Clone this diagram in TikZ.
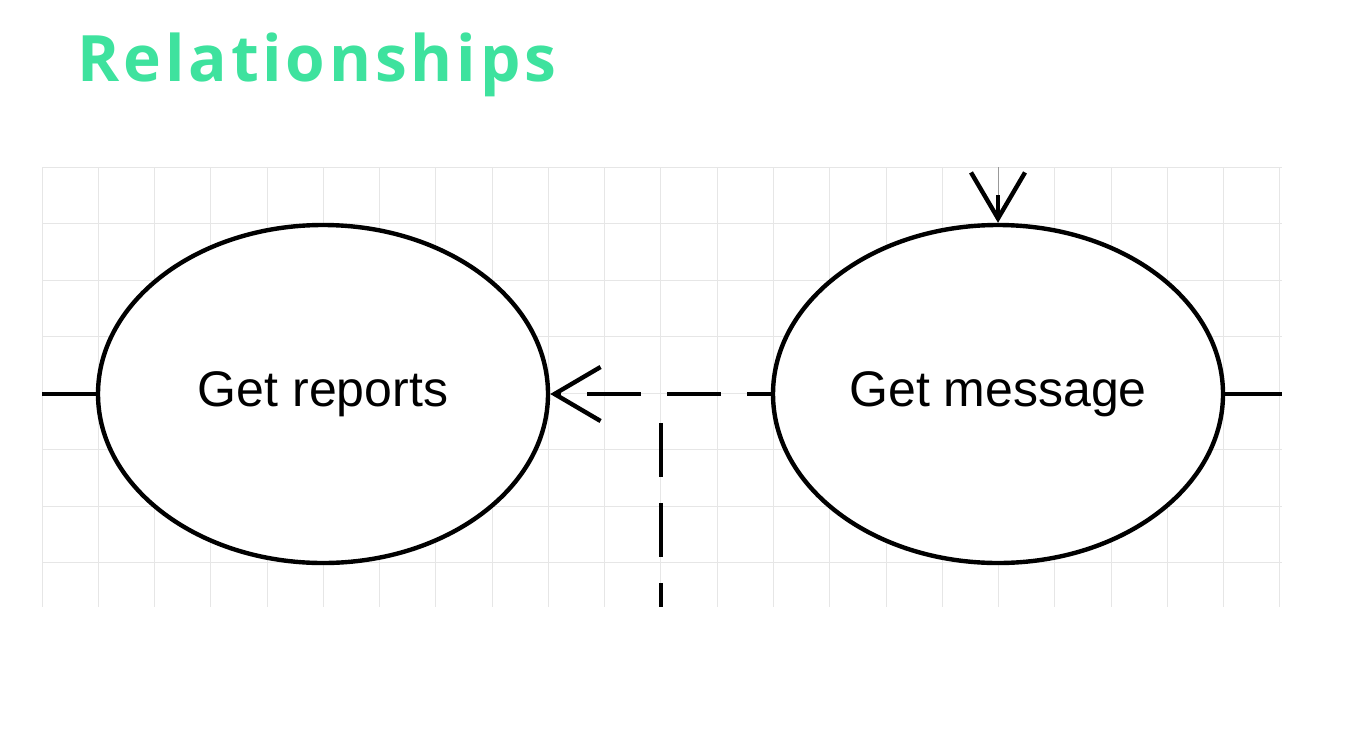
\documentclass[tikz,border=0pt]{standalone}
\usepackage{fontspec}
\setmainfont{Liberation Sans}
\newfontfamily\titlefont{Open Sans}[LetterSpace=6, Ligatures=NoCommon]
\usetikzlibrary{shapes.geometric, arrows.meta, positioning}
\definecolor{titlegreen}{RGB}{62,226,158}
\definecolor{gridgrey}{RGB}{230,230,230}

\begin{document}
\begin{tikzpicture}[
    x=0.5pt, y=-0.5pt,
    usecase/.style = {
        ellipse, draw=black, line width=2.2pt, fill=white,
        minimum width=225pt, minimum height=169pt,
        font=\fontsize{25}{30}\selectfont, inner sep=0pt
    },
    gridline/.style = {draw=gridgrey, line width=0.5pt},
    assoc/.style = {draw=black, line width=2.2pt},
    barb/.style = {-{Straight Barb[length=23pt, width=27pt]}, line width=2.2pt},
    dep/.style = {draw=black, line width=2.2pt, dash pattern=on 27pt off 13pt}
]
\useasboundingbox (0,0) rectangle (1352,744);

% ---- Title ----
\node[anchor=base west, inner sep=0pt, text=titlegreen,
      font=\titlefont\bfseries\fontsize{32}{38}\selectfont] (title) at (77,81) {Relationships};

% ---- Grid ----
\foreach \i in {0,...,22}
  \draw[gridline] (42+\i*56.27,167) -- (42+\i*56.27,607);
\foreach \j in {0,...,7}
  \draw[gridline] (42,167+\j*56.5) -- (1282,167+\j*56.5);

% ---- Use cases ----
\node[usecase] (reports) at (323,394) {Get reports};
\node[usecase] (message) at (998,394) {Get message};

% ---- Free ends ----
\coordinate (leftend) at (42,394);
\coordinate (rightend) at (1282,394);
\coordinate (branch) at (661,423);
\coordinate (branchend) at (661,607);
\coordinate (gridtop) at (998,167);
\coordinate (intop) at (998,195);

% ---- Connectors ----
\draw[assoc] (leftend) -- (reports.west);
\draw[assoc] (message.east) -- (rightend);
\draw[dep, dash phase=15pt, barb] (message.west) -- (reports.east);
\draw[dep] (branch) -- (branchend);
\draw[draw=black!40, line width=0.4pt] (gridtop) -- (intop);
\draw[barb] (intop) -- (message.north);

\end{tikzpicture}
\end{document}
